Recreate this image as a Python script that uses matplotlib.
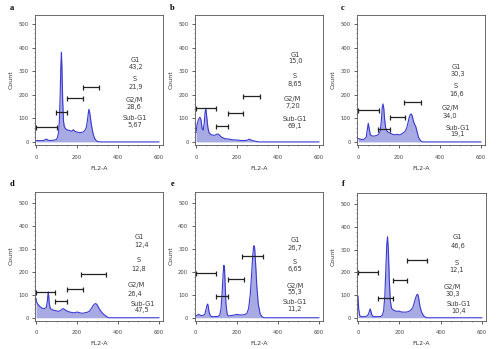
import matplotlib
matplotlib.use("Agg")
import matplotlib.pyplot as plt
from matplotlib.ticker import MultipleLocator

W, H = 500, 349

# ---------------- data ----------------
panel_letters = ["a", "b", "c", "d", "e", "f"]
phase_names = ["G1", "S", "G2/M", "Sub-G1"]

values_a = ["43,2", "21,9", "28,6", "5,67"]
values_b = ["15,0", "8,65", "7,20", "69,1"]
values_c = ["30,3", "16,6", "34,0", "19,1"]
values_d = ["12,4", "12,8", "26,4", "47,5"]
values_e = ["26,7", "6,65", "55,3", "11,2"]
values_f = ["46,6", "12,1", "30,3", "10,4"]

fl2_a = [0,10,20,30,40,50,55,60,70,80,90,100,105,110,114,118,121,124,127,130,134,138,145,155,165,175,182,190,200,210,220,230,238,245,250,255,258,262,266,270,275,280,288,295,302,320,600]
cnt_a = [5,6,5,6,7,12,10,7,6,7,8,10,20,40,90,200,320,380,300,180,90,65,55,50,48,45,52,45,42,40,40,42,48,60,85,120,138,125,100,75,50,30,12,5,1,0,0]

fl2_b = [0,5,12,19,24,30,35,40,44,48,52,58,64,75,90,100,108,115,125,140,160,180,200,220,240,252,260,268,280,295,310,600]
cnt_b = [40,75,95,105,95,55,50,80,125,142,110,60,38,30,28,32,34,28,20,14,12,9,8,6,6,8,12,8,5,2,0,0]

fl2_c = [0,10,20,30,40,45,50,55,60,70,80,90,100,108,114,118,122,126,130,135,142,150,160,170,180,190,200,210,220,230,238,245,250,255,259,264,270,276,282,288,295,305,315,600]
cnt_c = [15,12,10,12,20,50,79,55,30,25,25,27,32,45,90,145,161,140,95,60,45,40,36,32,30,32,30,32,38,45,60,85,105,115,119,112,90,75,65,45,20,5,0,0]

fl2_d = [0,2,8,20,30,40,50,55,58,60,62,65,70,80,90,100,110,120,128,133,140,150,160,170,180,190,200,210,220,230,240,250,260,270,278,285,292,298,305,315,330,345,355,600]
cnt_d = [85,70,60,48,42,40,45,70,100,113,95,60,40,35,32,30,28,32,38,40,36,30,26,24,22,22,25,23,20,20,22,24,28,40,52,60,62,57,45,30,15,5,0,0]

fl2_e = [0,10,15,25,35,45,52,56,59,62,66,72,80,95,110,118,124,130,134,138,141,144,148,154,160,175,190,200,210,225,240,250,258,266,272,278,282,285,288,292,298,305,315,325,335,600]
cnt_e = [8,12,15,10,10,15,40,55,60,50,25,8,5,5,6,12,40,120,190,229,215,150,60,15,8,10,12,15,13,12,14,20,40,100,180,270,305,315,300,240,140,60,15,3,0,0]

fl2_f = [0,3,8,15,30,45,52,56,59,62,66,72,85,100,110,118,124,130,135,139,143,147,151,156,162,170,180,190,197,205,215,225,235,245,255,265,272,278,284,288,291,295,300,308,318,332,600]
cnt_f = [95,40,10,5,5,8,20,32,39,30,15,6,5,5,6,12,30,100,220,320,357,300,180,80,42,35,30,28,30,27,25,25,25,28,33,45,65,85,100,103,100,80,50,25,8,0,0]

# gates: [start, end, level] for Sub-G1, G1, S, G2/M
gates_a = [[0, 101, 64], [97, 153, 126], [153, 228, 188], [228, 307, 232]]
gates_b = [[0, 98, 144], [98, 154, 66], [154, 229, 124], [229, 310, 195]]
gates_c = [[0, 101, 136], [97, 154, 54], [154, 230, 107], [225, 307, 171]]
gates_d = [[0, 94, 113], [94, 152, 73], [152, 227, 127], [222, 340, 193]]
gates_e = [[0, 98, 195], [98, 157, 94], [160, 234, 169], [228, 326, 269]]
gates_f = [[0, 99, 202], [96, 169, 89], [169, 239, 166], [237, 333, 253]]

# label anchors (x, y) for: name, value  x4 phases (G1, S, G2/M, Sub-G1)
labels_a = [(483, 347), (487, 319), (483, 266), (487, 232), (478, 178), (480, 148), (483, 102), (483, 72)]
labels_b = [(483, 368), (487, 342), (483, 279), (483, 246), (472, 184), (472, 152), (480, 99), (480, 69)]
labels_c = [(479, 319), (485, 286), (476, 237), (479, 204), (450, 143), (450, 111), (488, 61), (488, 33)]
labels_d = [(503, 354), (514, 317), (503, 251), (503, 215), (490, 142), (482, 105), (519, 61), (519, 32)]
labels_e = [(483, 341), (483, 305), (483, 244), (483, 212), (483, 140), (483, 111), (483, 68), (483, 39)]
labels_f = [(481, 355), (484, 318), (478, 241), (478, 209), (457, 137), (457, 105), (489, 61), (489, 28)]

panels = [
    (fl2_a, cnt_a, gates_a, values_a, labels_a),
    (fl2_b, cnt_b, gates_b, values_b, labels_b),
    (fl2_c, cnt_c, gates_c, values_c, labels_c),
    (fl2_d, cnt_d, gates_d, values_d, labels_d),
    (fl2_e, cnt_e, gates_e, values_e, labels_e),
    (fl2_f, cnt_f, gates_f, values_f, labels_f),
]

# axes boxes in pixels: left, right, top, bottom
boxes = [(35, 163, 15, 145), (195, 323, 15, 145), (357, 485, 15, 145),
         (35, 163, 191.5, 320.5), (194.5, 323, 191.5, 320.5), (357, 486, 192.5, 320.5)]
letter_pos = [(12, 8), (172, 8), (343, 8), (12, 184), (173, 184), (343, 184)]

line_col = "#3a3ad0"
fill_col = "#a8aae4"
text_col = "#3a3a3a"

fig = plt.figure(figsize=(W / 100, H / 100), dpi=100)
fig.patch.set_facecolor("white")

for i, (xs, ys, gates, vals, labs) in enumerate(panels):
    l, r, t, b = boxes[i]
    ax = fig.add_axes([l / W, 1 - b / H, (r - l) / W, (b - t) / H])
    ax.fill_between(xs, ys, 0, color=fill_col, lw=0)
    ax.plot(xs, ys, color=line_col, lw=0.8)
    ax.set_xlim(-5, 620)
    if i < 3:
        ax.set_ylim(-13, 538)
    else:
        ax.set_ylim(-12, 552)
    ax.xaxis.set_major_locator(MultipleLocator(200))
    ax.xaxis.set_minor_locator(MultipleLocator(50))
    ax.yaxis.set_major_locator(MultipleLocator(100))
    ax.yaxis.set_minor_locator(MultipleLocator(20))
    ax.tick_params(which="major", length=2, width=0.6, labelsize=3.8,
                   colors="#444444")
    ax.tick_params(axis="x", which="major", pad=5)
    ax.tick_params(axis="y", which="major", pad=2.5)
    ax.tick_params(which="minor", length=1, width=0.4, colors="#444444")
    for s in ax.spines.values():
        s.set_color("#555555")
        s.set_linewidth(0.6)
    ax.set_xlabel("FL2-A", fontsize=4.5, color=text_col, labelpad=4.5)
    ax.set_ylabel("Count", fontsize=4.5, color=text_col, labelpad=3.5)

    # gates
    for x0, x1, lev in gates:
        ax.errorbar([(x0 + x1) / 2], [lev], xerr=[[(x1 - x0) / 2], [(x1 - x0) / 2]],
                    fmt="none", ecolor="#222222", elinewidth=0.9, capsize=1.8,
                    capthick=0.9)

    # phase labels
    for k in range(4):
        nx, ny = labs[2 * k]
        vx, vy = labs[2 * k + 1]
        ax.text(nx, ny, phase_names[k], fontsize=4.8, color=text_col,
                ha="center", va="center")
        ax.text(vx, vy, vals[k], fontsize=4.8, color=text_col,
                ha="center", va="center")

    lx, ly = letter_pos[i]
    fig.text(lx / W, 1 - ly / H, panel_letters[i], fontsize=6,
             family="Liberation Serif", weight="bold", ha="center", va="center")

fig.savefig("out.png", dpi=100, facecolor="white")
